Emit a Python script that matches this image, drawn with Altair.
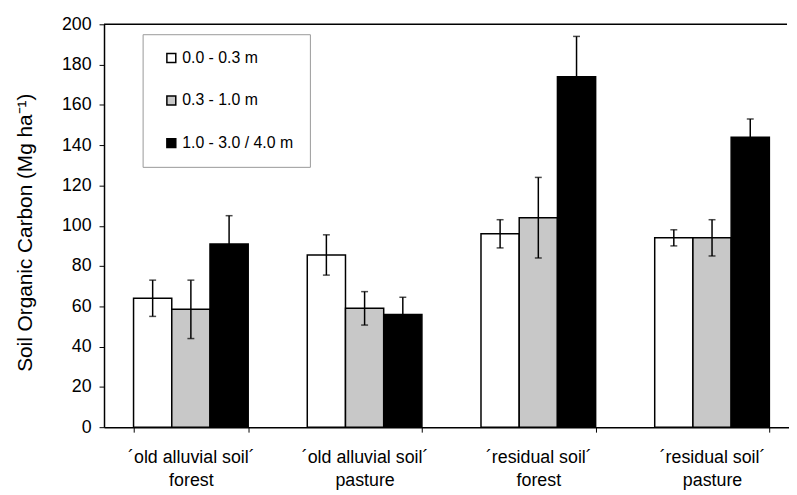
import altair as alt
import pandas as pd

# ---- data ----
sites = [
    "´old alluvial soil´|forest",
    "´old alluvial soil´|pasture",
    "´residual soil´|forest",
    "´residual soil´|pasture",
]
depths = ["0.0 - 0.3 m", "0.3 - 1.0 m", "1.0 - 3.0 / 4.0 m"]

mean_0_03 = [64, 85.5, 96, 94]
mean_03_10 = [58.5, 59, 104, 94]
mean_10_40 = [91, 56, 174, 144]

err_0_03 = [9, 10, 7, 4]
err_03_10 = [14.5, 8.3, 20, 9]
err_10_40 = [14, 8.5, 20, 9]

y_ticks = [0, 20, 40, 60, 80, 100, 120, 140, 160, 180, 200]
fills = ["white", "#c8c8c8", "black"]

means = [mean_0_03, mean_03_10, mean_10_40]
errs = [err_0_03, err_03_10, err_10_40]

rows = []
for i, s in enumerate(sites):
    for j, d in enumerate(depths):
        m = means[j][i]
        e = errs[j][i]
        rows.append({"site": s, "depth": d, "mean": m, "lo": m - e, "hi": m + e})
df = pd.DataFrame(rows)

FONT = "Liberation Sans"

x_enc = alt.X(
    "site:N",
    sort=sites,
    scale=alt.Scale(range=[0, 702], paddingInner=0.34, paddingOuter=0.17),
    axis=alt.Axis(
        title=None,
        labelExpr="split(datum.label, '|')",
        labelAngle=0,
        labelFontSize=18,
        labelLineHeight=23,
        labelPadding=17,
        tickBand="extent",
        tickSize=5,
        tickColor="black",
        domainColor="black",
        domainWidth=1.5,
        labelColor="black",
        labelFont=FONT,
    ),
)
xo_enc = alt.XOffset("depth:N", sort=depths, scale=alt.Scale(paddingInner=0, paddingOuter=0))

y_scale = alt.Scale(domain=[0, 200], nice=False)

bars = alt.Chart(df).mark_bar(stroke="black", strokeWidth=1.5).encode(
    x=x_enc,
    xOffset=xo_enc,
    y=alt.Y(
        "mean:Q",
        scale=y_scale,
        axis=alt.Axis(
            values=y_ticks,
            title="Soil Organic Carbon (Mg ha⁻¹)",
            titleFontSize=21,
            titleFontWeight="normal",
            titleFont=FONT,
            titleColor="black",
            titleX=-79,
            titleY=210,
            titleAlign="center",
            titleBaseline="middle",
            labelFontSize=18,
            labelFont=FONT,
            labelColor="black",
            labelPadding=8,
            tickSize=5,
            tickColor="black",
            domainColor="black",
            domainWidth=1.5,
            grid=False,
        ),
    ),
    color=alt.Color(
        "depth:N",
        sort=depths,
        scale=alt.Scale(domain=depths, range=fills),
        legend=alt.Legend(
            title=None,
            orient="none",
            legendX=39,
            legendY=10,
            padding=16,
            rowPadding=27,
            symbolType="square",
            symbolSize=81,
            symbolStrokeColor="black",
            symbolStrokeWidth=1.5,
            symbolOffset=5,
            labelOffset=3,
            labelFontSize=16,
            labelFont=FONT,
            labelColor="black",
            strokeColor="#999999",
            fillColor="white",
        ),
    ),
)

err_rules = alt.Chart(df).mark_rule(color="black", strokeWidth=1.5).encode(
    x=alt.X("site:N", sort=sites), xOffset=xo_enc,
    y=alt.Y("lo:Q", scale=y_scale), y2="hi:Q",
)
cap_hi = alt.Chart(df).mark_tick(color="black", thickness=1.5, size=7, orient="horizontal").encode(
    x=alt.X("site:N", sort=sites), xOffset=xo_enc, y=alt.Y("hi:Q", scale=y_scale),
)
cap_lo = alt.Chart(df).mark_tick(color="black", thickness=1.5, size=7, orient="horizontal").encode(
    x=alt.X("site:N", sort=sites), xOffset=xo_enc, y=alt.Y("lo:Q", scale=y_scale),
)
top_line = alt.Chart(pd.DataFrame({"v": [200]})).mark_rule(color="black", strokeWidth=1.5).encode(
    y=alt.Y("v:Q", scale=y_scale)
)

chart = (
    alt.layer(bars, err_rules, cap_hi, cap_lo, top_line)
    .properties(
        width=690,
        height=407,
        autosize=alt.AutoSizeParams(type="none"),
        padding={"left": 97, "top": 14, "right": 2, "bottom": 64},
    )
    .configure_view(stroke=None)
)

chart.save("out.html", embed_options={"renderer": "svg", "actions": False})
